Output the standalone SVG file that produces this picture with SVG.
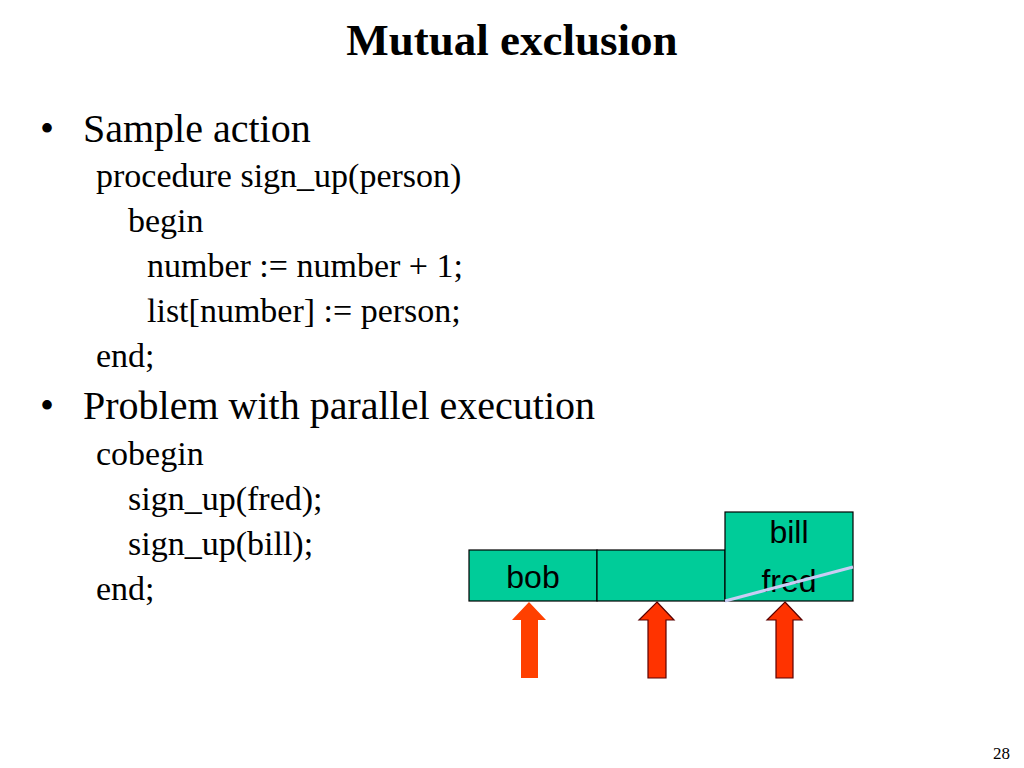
<svg xmlns="http://www.w3.org/2000/svg" width="1024" height="768" viewBox="0 0 1024 768">
<style>
.t{font-family:"Liberation Serif","Times New Roman",serif;fill:#000}
.h{font-size:40px}
.c{font-size:34px}
.a{font-family:"Liberation Sans",Arial,sans-serif;font-size:32px;fill:#000;text-anchor:middle}
.box{fill:#00CC99;stroke:#000;stroke-width:1.2}
.arr{fill:#FF3300;stroke:#5a0000;stroke-width:1.2}
</style>
<rect width="1024" height="768" fill="#fff"/>
<text class="t" x="512" y="55" font-size="45" font-weight="bold" text-anchor="middle">Mutual exclusion</text>
<g id="text">
<text class="t h" x="40" y="142">•</text>
<text class="t h" x="83" y="142">Sample action</text>
<text class="t c" x="96" y="187">procedure sign_up(person)</text>
<text class="t c" x="128" y="232">begin</text>
<text class="t c" x="147" y="277">number := number + 1;</text>
<text class="t c" x="147" y="322">list[number] := person;</text>
<text class="t c" x="96" y="367">end;</text>
<text class="t h" x="40" y="419">•</text>
<text class="t h" x="83" y="419">Problem with parallel execution</text>
<text class="t c" x="96" y="465">cobegin</text>
<text class="t c" x="128" y="510">sign_up(fred);</text>
<text class="t c" x="128" y="555">sign_up(bill);</text>
<text class="t c" x="96" y="600">end;</text>
</g>
<g id="cell1"><rect class="box" x="469" y="550" width="128" height="51"/><text class="a" x="533" y="588">bob</text></g>
<g id="cell2"><rect class="box" x="597" y="550" width="128" height="51"/></g>
<g id="cell3"><rect class="box" x="725" y="512" width="128" height="89"/><text class="a" x="789" y="543">bill</text><text class="a" x="789" y="592">fred</text>
<line x1="725" y1="601" x2="853" y2="567" stroke="#C8CCF4" stroke-width="3"/></g>
<g id="arrows">
<polygon id="arrow1" fill="#FF4000" points="529,602 546,620 538,620 538,678 521,678 521,620 512,620"/>
<polygon id="arrow2" class="arr" points="657,602 674,620 666,620 666,678 648,678 648,620 639,620"/>
<polygon id="arrow3" class="arr" points="785,602 802,620 793,620 793,678 776,678 776,620 767,620"/>
</g>
<text class="t" x="1010" y="759" font-size="17" text-anchor="end">28</text>
</svg>
